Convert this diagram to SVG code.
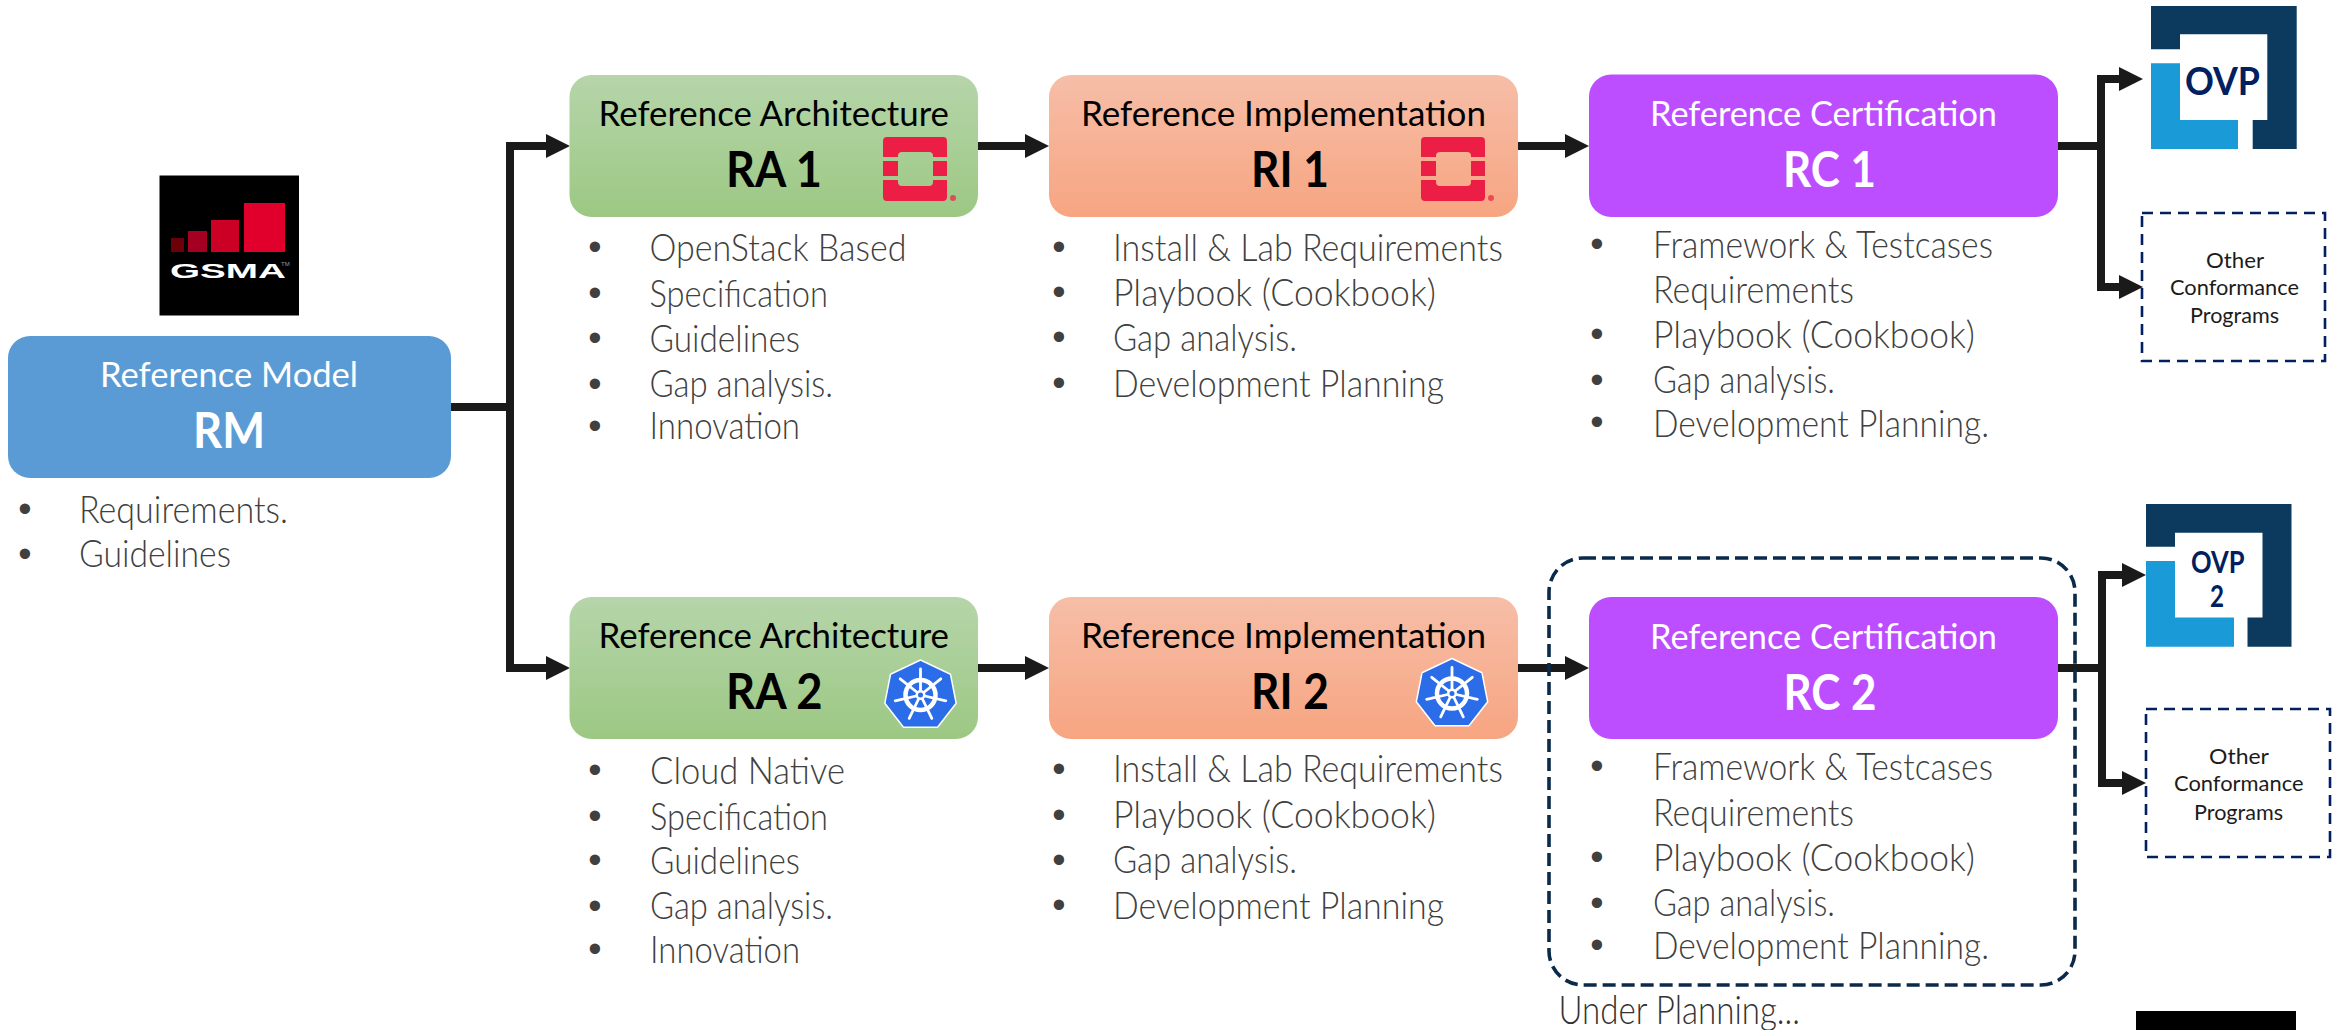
<svg xmlns="http://www.w3.org/2000/svg" xmlns:xlink="http://www.w3.org/1999/xlink" width="2341" height="1030" viewBox="0 0 2341 1030">
<style>
text{font-family:"Lato","Liberation Sans",sans-serif}
.t{font-size:35px}
.h{font-size:49px;font-weight:700}
.w{fill:#fff}
.k{fill:#000}
.b{font-size:37px;font-weight:300;fill:#404040}
.o{font-size:22px;font-weight:400;fill:#1c1c1c}
.dot{font-family:"Liberation Sans",sans-serif;font-size:38px;fill:#404040;text-anchor:middle}
.ovp{font-weight:700;fill:#002060}
.c{fill:none;stroke:#1a1a1a;stroke-width:8}
.dark{fill:#0b3a5e}
.light{fill:#1a9ad6}
.dash{fill:none;stroke:#002060;stroke-width:2.6;stroke-dasharray:11 7}
</style>
<defs>
<linearGradient id="gGreen" x1="0" y1="0" x2="0" y2="1"><stop offset="0" stop-color="#b6d5aa"/><stop offset="1" stop-color="#9cc883"/></linearGradient>
<linearGradient id="gOrange" x1="0" y1="0" x2="0" y2="1"><stop offset="0" stop-color="#f6bea8"/><stop offset="1" stop-color="#f7a581"/></linearGradient>
<marker id="arrow" markerUnits="userSpaceOnUse" markerWidth="24" markerHeight="24" viewBox="0 0 24 24" refX="0" refY="12" orient="auto"><path d="M0 0L24 12L0 24Z" fill="#1a1a1a"/></marker>
<g id="openstack" fill="#ed1e45">
<path d="M4 0H60a4 4 0 0 1 4 4V20H50V19a4 4 0 0 0-4-4H19a4 4 0 0 0-4 4V20H0V4a4 4 0 0 1 4-4Z"/>
<rect x="0" y="24" width="15" height="15"/><rect x="50" y="24" width="14" height="15"/>
<path d="M0 43H15V45a4 4 0 0 0 4 4H46a4 4 0 0 0 4-4V43H64V60a4 4 0 0 1-4 4H4a4 4 0 0 1-4-4Z"/>
<circle cx="70" cy="61" r="3" opacity=".7"/>
</g>
<g id="k8s">
<polygon points="0,-35 30,-20.7 35.7,8.3 17,32.3 -17,32.3 -35.7,8.3 -30,-20.7" fill="#2b6ce8" stroke="#fff" stroke-width="1.5" stroke-linejoin="round"/>
<circle r="15" fill="none" stroke="#fff" stroke-width="4.5"/>
<path d="M0 0L0-26M0 0L20.3-16.2M0 0L25.3 5.8M0 0L11.3 23.4M0 0L-11.3 23.4M0 0L-25.3 5.8M0 0L-20.3-16.2" stroke="#fff" stroke-width="2.8" stroke-linecap="round" fill="none"/>
<circle r="5" fill="#fff"/><circle r="2.5" fill="#2b6ce8"/>
</g>
</defs>
<rect width="2341" height="1030" fill="#fff"/>

<g id="connectors">
<path class="c" d="M451 407H510"/>
<path class="c" marker-end="url(#arrow)" d="M510 407V146H546"/>
<path class="c" marker-end="url(#arrow)" d="M510 407V668H546"/>
<path class="c" marker-end="url(#arrow)" d="M978 146H1025"/>
<path class="c" marker-end="url(#arrow)" d="M1518 146H1565"/>
<path class="c" d="M2058 146H2101"/>
<path class="c" marker-end="url(#arrow)" d="M2101 146V79H2119"/>
<path class="c" marker-end="url(#arrow)" d="M2101 146V287H2119"/>
<path class="c" marker-end="url(#arrow)" d="M978 668H1025"/>
<path class="c" marker-end="url(#arrow)" d="M1518 668H1565"/>
<path class="c" d="M2058 668H2102"/>
<path class="c" marker-end="url(#arrow)" d="M2102 668V575H2122"/>
<path class="c" marker-end="url(#arrow)" d="M2102 668V783H2122"/>
</g>

<g id="logo-gsma">
<rect x="159.5" y="175.5" width="139.5" height="140" fill="#000"/>
<rect x="171" y="238" width="13" height="14" fill="#6b0008"/>
<rect x="188" y="231" width="19" height="21" fill="#a50021"/>
<rect x="211" y="220" width="28" height="32" fill="#cc0024"/>
<rect x="244" y="203" width="41" height="49" fill="#e0002b"/>
<text x="170" y="278" font-size="21" font-weight="700" textLength="116" lengthAdjust="spacingAndGlyphs" style="font-family:'Liberation Sans',sans-serif" fill="#fff">GSMA</text>
<text x="281" y="266" font-size="6" style="font-family:'Liberation Sans',sans-serif" fill="#999">TM</text>
</g>

<g id="node-rm">
<rect x="8" y="336" width="443" height="142" rx="22" fill="#5b9bd5"/>
<text class="t w" x="100" y="387" textLength="258" lengthAdjust="spacingAndGlyphs">Reference Model</text>
<text class="h w" x="193" y="448" textLength="72" lengthAdjust="spacingAndGlyphs">RM</text>
<text class="dot" x="25" y="522">•</text><text class="b" x="79" y="523" textLength="209" lengthAdjust="spacingAndGlyphs">Requirements.</text>
<text class="dot" x="25" y="567">•</text><text class="b" x="79" y="567" textLength="152" lengthAdjust="spacingAndGlyphs">Guidelines</text>
</g>

<g id="node-ra1">
<rect x="569.5" y="75" width="408.5" height="142" rx="22" fill="url(#gGreen)"/>
<text class="t k" x="598.5" y="126" textLength="350.5" lengthAdjust="spacingAndGlyphs">Reference Architecture</text>
<text class="h k" x="726" y="187" textLength="96" lengthAdjust="spacingAndGlyphs">RA 1</text>
<use xlink:href="#openstack" href="#openstack" x="883" y="137"/>
<text class="dot" x="595" y="260">•</text><text class="b" x="649.5" y="261" textLength="257" lengthAdjust="spacingAndGlyphs">OpenStack Based</text>
<text class="dot" x="595" y="306">•</text><text class="b" x="649.5" y="307" textLength="178.5" lengthAdjust="spacingAndGlyphs">Specification</text>
<text class="dot" x="595" y="351">•</text><text class="b" x="649.5" y="352" textLength="150.5" lengthAdjust="spacingAndGlyphs">Guidelines</text>
<text class="dot" x="595" y="397">•</text><text class="b" x="649.5" y="397" textLength="183.5" lengthAdjust="spacingAndGlyphs">Gap analysis.</text>
<text class="dot" x="595" y="439">•</text><text class="b" x="649.5" y="439" textLength="150.5" lengthAdjust="spacingAndGlyphs">Innovation</text>
</g>

<g id="node-ri1">
<rect x="1049" y="75" width="469" height="142" rx="22" fill="url(#gOrange)"/>
<text class="t k" x="1081" y="126" textLength="405" lengthAdjust="spacingAndGlyphs">Reference Implementation</text>
<text class="h k" x="1251" y="187" textLength="78" lengthAdjust="spacingAndGlyphs">RI 1</text>
<use xlink:href="#openstack" href="#openstack" x="1421" y="137"/>
<text class="dot" x="1059" y="260">•</text><text class="b" x="1113" y="261" textLength="390" lengthAdjust="spacingAndGlyphs">Install &amp; Lab Requirements</text>
<text class="dot" x="1059" y="305">•</text><text class="b" x="1113" y="306" textLength="323" lengthAdjust="spacingAndGlyphs">Playbook (Cookbook)</text>
<text class="dot" x="1059" y="350">•</text><text class="b" x="1113" y="351" textLength="184" lengthAdjust="spacingAndGlyphs">Gap analysis.</text>
<text class="dot" x="1059" y="396">•</text><text class="b" x="1113" y="397" textLength="331" lengthAdjust="spacingAndGlyphs">Development Planning</text>
</g>

<g id="node-rc1">
<rect x="1589" y="74.5" width="469" height="142.5" rx="22" fill="#bc4eff"/>
<text class="t w" x="1650" y="126" textLength="347" lengthAdjust="spacingAndGlyphs">Reference Certification</text>
<text class="h w" x="1783" y="187" textLength="93" lengthAdjust="spacingAndGlyphs">RC 1</text>
<text class="dot" x="1597" y="257">•</text><text class="b" x="1653" y="258" textLength="340" lengthAdjust="spacingAndGlyphs">Framework &amp; Testcases</text>
<text class="b" x="1653" y="303" textLength="201" lengthAdjust="spacingAndGlyphs">Requirements</text>
<text class="dot" x="1597" y="347">•</text><text class="b" x="1653" y="348" textLength="322" lengthAdjust="spacingAndGlyphs">Playbook (Cookbook)</text>
<text class="dot" x="1597" y="393">•</text><text class="b" x="1653" y="393" textLength="182" lengthAdjust="spacingAndGlyphs">Gap analysis.</text>
<text class="dot" x="1597" y="435">•</text><text class="b" x="1653" y="437" textLength="336" lengthAdjust="spacingAndGlyphs">Development Planning.</text>
</g>

<g id="logo-ovp1">
<polygon class="dark" points="2151,6 2296.7,6 2296.7,149 2252.7,149 2252.7,120 2267.3,120 2267.3,34.3 2180,34.3 2180,49.3 2151,49.3"/>
<polygon class="light" points="2151,63.3 2180,63.3 2180,120 2238,120 2238,149 2151,149"/>
<text class="ovp" x="2185" y="95" font-size="39" textLength="75" lengthAdjust="spacingAndGlyphs">OVP</text>
</g>

<g id="node-other1">
<rect class="dash" x="2142" y="213" width="183" height="148"/>
<text class="o" x="2206" y="268" textLength="58" lengthAdjust="spacingAndGlyphs">Other</text>
<text class="o" x="2170" y="295" textLength="129" lengthAdjust="spacingAndGlyphs">Conformance</text>
<text class="o" x="2190" y="323" textLength="89" lengthAdjust="spacingAndGlyphs">Programs</text>
</g>

<g id="node-ra2">
<rect x="569.5" y="597" width="408.5" height="142" rx="22" fill="url(#gGreen)"/>
<text class="t k" x="598.5" y="648" textLength="350.5" lengthAdjust="spacingAndGlyphs">Reference Architecture</text>
<text class="h k" x="726" y="709" textLength="96.5" lengthAdjust="spacingAndGlyphs">RA 2</text>
<use xlink:href="#k8s" href="#k8s" x="920.5" y="695"/>
<text class="dot" x="595" y="783">•</text><text class="b" x="650" y="784" textLength="195" lengthAdjust="spacingAndGlyphs">Cloud Native</text>
<text class="dot" x="595" y="829">•</text><text class="b" x="650" y="830" textLength="178" lengthAdjust="spacingAndGlyphs">Specification</text>
<text class="dot" x="595" y="873">•</text><text class="b" x="650" y="874" textLength="150" lengthAdjust="spacingAndGlyphs">Guidelines</text>
<text class="dot" x="595" y="919">•</text><text class="b" x="650" y="919" textLength="183" lengthAdjust="spacingAndGlyphs">Gap analysis.</text>
<text class="dot" x="595" y="962">•</text><text class="b" x="650" y="963" textLength="150" lengthAdjust="spacingAndGlyphs">Innovation</text>
</g>

<g id="node-ri2">
<rect x="1049" y="597" width="469" height="142" rx="22" fill="url(#gOrange)"/>
<text class="t k" x="1081" y="648" textLength="405" lengthAdjust="spacingAndGlyphs">Reference Implementation</text>
<text class="h k" x="1251" y="709" textLength="78" lengthAdjust="spacingAndGlyphs">RI 2</text>
<use xlink:href="#k8s" href="#k8s" x="1452" y="693.5"/>
<text class="dot" x="1059" y="782">•</text><text class="b" x="1113" y="782" textLength="390" lengthAdjust="spacingAndGlyphs">Install &amp; Lab Requirements</text>
<text class="dot" x="1059" y="828">•</text><text class="b" x="1113" y="828" textLength="323" lengthAdjust="spacingAndGlyphs">Playbook (Cookbook)</text>
<text class="dot" x="1059" y="873">•</text><text class="b" x="1113" y="873" textLength="184" lengthAdjust="spacingAndGlyphs">Gap analysis.</text>
<text class="dot" x="1059" y="918">•</text><text class="b" x="1113" y="919" textLength="331" lengthAdjust="spacingAndGlyphs">Development Planning</text>
</g>

<g id="group-under-planning">
<rect x="1549" y="558" width="526" height="427" rx="34" fill="none" stroke="#0b2a4a" stroke-width="3.6" stroke-dasharray="13 6"/>
<text class="b" x="1558.5" y="1024" textLength="241.5" lengthAdjust="spacingAndGlyphs" style="fill:#333;font-size:39px">Under Planning...</text>
</g>

<g id="node-rc2">
<rect x="1589" y="597" width="469" height="142" rx="22" fill="#bc4eff"/>
<text class="t w" x="1650" y="649" textLength="347" lengthAdjust="spacingAndGlyphs">Reference Certification</text>
<text class="h w" x="1783.5" y="709.5" textLength="93" lengthAdjust="spacingAndGlyphs">RC 2</text>
<text class="dot" x="1597" y="779">•</text><text class="b" x="1653" y="780" textLength="340" lengthAdjust="spacingAndGlyphs">Framework &amp; Testcases</text>
<text class="b" x="1653" y="826" textLength="201" lengthAdjust="spacingAndGlyphs">Requirements</text>
<text class="dot" x="1597" y="870">•</text><text class="b" x="1653" y="871" textLength="322" lengthAdjust="spacingAndGlyphs">Playbook (Cookbook)</text>
<text class="dot" x="1597" y="916">•</text><text class="b" x="1653" y="916" textLength="182" lengthAdjust="spacingAndGlyphs">Gap analysis.</text>
<text class="dot" x="1597" y="958">•</text><text class="b" x="1653" y="959" textLength="336" lengthAdjust="spacingAndGlyphs">Development Planning.</text>
</g>

<g id="logo-ovp2">
<polygon class="dark" points="2146,504 2291.5,504 2291.5,646.7 2247.5,646.7 2247.5,617.4 2262.5,617.4 2262.5,532.7 2175,532.7 2175,546.8 2146,546.8"/>
<polygon class="light" points="2146,561 2175,561 2175,617.4 2234,617.4 2234,646.7 2146,646.7"/>
<text class="ovp" x="2191" y="572.5" font-size="31" textLength="53.5" lengthAdjust="spacingAndGlyphs">OVP</text>
<text class="ovp" x="2210" y="607" font-size="31" textLength="14" lengthAdjust="spacingAndGlyphs">2</text>
</g>

<g id="node-other2">
<rect class="dash" x="2146" y="709" width="184" height="148"/>
<text class="o" x="2209" y="764" textLength="60" lengthAdjust="spacingAndGlyphs">Other</text>
<text class="o" x="2174" y="791" textLength="129.5" lengthAdjust="spacingAndGlyphs">Conformance</text>
<text class="o" x="2194" y="819.5" textLength="89" lengthAdjust="spacingAndGlyphs">Programs</text>
</g>

<rect id="black-bar" x="2136" y="1011" width="160" height="19" fill="#000"/>
</svg>
